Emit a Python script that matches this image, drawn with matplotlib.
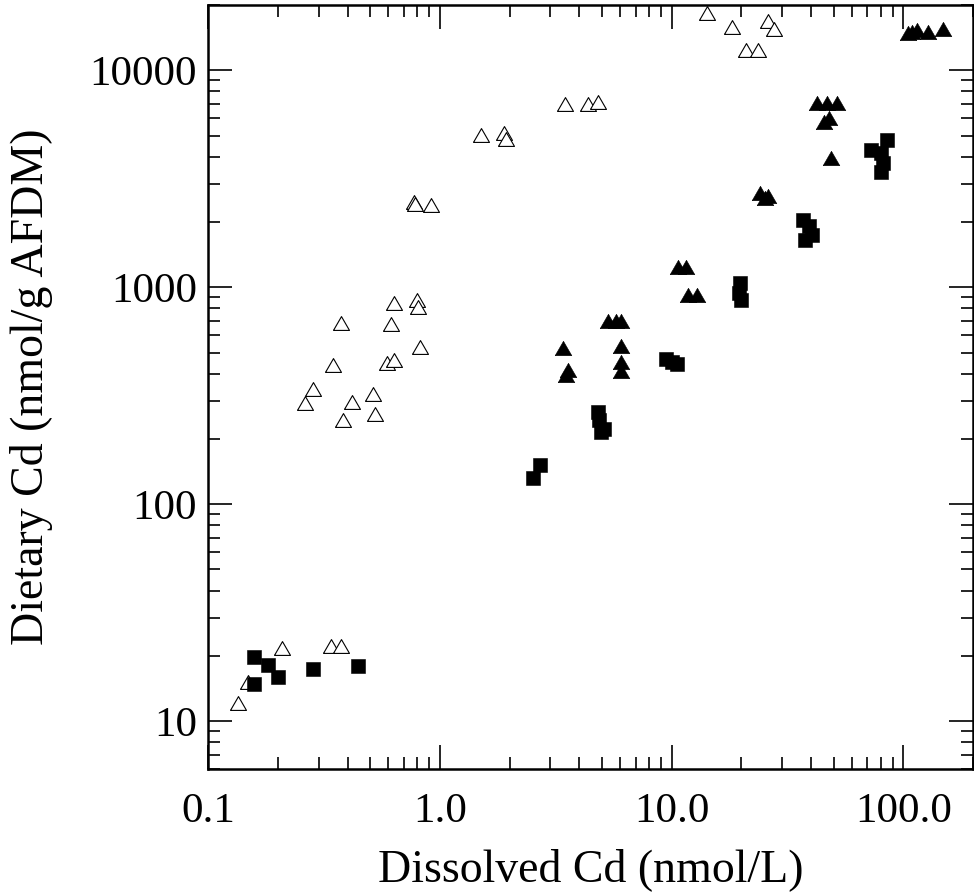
import numpy as np
import matplotlib
matplotlib.use("Agg")
import matplotlib.pyplot as plt
from matplotlib.ticker import FixedLocator, FixedFormatter, LogLocator, NullFormatter

plt.rcParams["font.family"] = ["Liberation Serif", "DejaVu Serif"]

# ── open triangles ───────────────────────────────────────────────────────────
open_tri_x = [0.134, 0.148, 0.208, 0.340, 0.373,
              0.262, 0.284, 0.381, 0.419, 0.516, 0.523, 0.347, 0.591, 0.633,
              0.3755, 0.617, 0.818, 0.633, 0.800, 0.806,
              0.773, 0.780, 0.917,
              1.51, 1.89, 1.94,
              3.46, 4.36, 4.80,
              14.2, 18.3, 26.2, 27.6, 21.0, 23.5]
open_tri_y = [12.1, 15.1, 21.7, 22.1, 22.1,
              292, 339, 245, 297, 322, 261, 438, 447, 462,
              683, 677, 532, 844, 875, 809,
              2460, 2420, 2390,
              5035, 5140, 4820,
              7000, 7000, 7140,
              18370, 15830, 16870, 15500, 12400, 12460]

# ── filled triangles ─────────────────────────────────────────────────────────
fill_tri_x = [3.39, 3.58, 3.50,
              5.31, 5.75, 6.07, 6.05, 6.05, 6.05,
              10.7, 11.6, 11.8, 12.9,
              24.1, 25.4, 26.2,
              42.3, 46.7, 51.6, 45.4, 48.0, 48.6,
              105, 109, 115, 128, 149]
fill_tri_y = [522, 416, 394,
              702, 702, 702, 538, 454, 409,
              1244, 1244, 920, 920,
              2710, 2580, 2620,
              7050, 7050, 7050, 5800, 6010, 3930,
              14850, 15000, 15300, 15000, 15500]

# ── filled squares ───────────────────────────────────────────────────────────
square_x = [0.158, 0.182, 0.158, 0.200, 0.284, 0.443,
            2.72, 2.53,
            4.80, 4.85, 5.10, 4.95,
            9.42, 10.0, 10.6,
            19.8, 19.5, 20.0,
            37.1, 39.3, 40.5, 37.6,
            84.7, 72.6, 80.5, 82.0, 80.5]
square_y = [19.7, 18.2, 14.9, 15.9, 17.4, 17.9,
            152, 132,
            266, 245, 222, 215,
            467, 453, 444,
            1042, 940, 875,
            2042, 1915, 1742, 1652,
            4770, 4290, 4140, 3730, 3410]

x_ticks = [0.1, 1.0, 10.0, 100.0]
x_tick_labels = ["0.1", "1.0", "10.0", "100.0"]
y_ticks = [10, 100, 1000, 10000]
y_tick_labels = ["10", "100", "1000", "10000"]

# equilateral triangle, centred on its bounding box
tri = [(-1, -0.866), (1, -0.866), (0, 0.866), (-1, -0.866)]

fig = plt.figure(figsize=(9.74, 8.92), dpi=100)
ax = fig.add_axes([0.2136, 0.1376, 0.7854, 0.8568])

ax.plot(open_tri_x, open_tri_y, ls="none", marker=tri, ms=11.5,
        mfc="white", mec="black", mew=0.8, zorder=3)
ax.plot(fill_tri_x, fill_tri_y, ls="none", marker=tri, ms=12,
        mfc="black", mec="black", mew=0.4, zorder=3)
ax.plot(square_x, square_y, ls="none", marker="s", ms=10.5,
        mfc="black", mec="black", mew=0.4, zorder=3)

ax.set_xscale("log")
ax.set_yscale("log")
ax.set_xlim(0.1, 200)
ax.set_ylim(6, 20000)

ax.xaxis.set_major_locator(FixedLocator(x_ticks))
ax.xaxis.set_major_formatter(FixedFormatter(x_tick_labels))
ax.yaxis.set_major_locator(FixedLocator(y_ticks))
ax.yaxis.set_major_formatter(FixedFormatter(y_tick_labels))
for axis in (ax.xaxis, ax.yaxis):
    axis.set_minor_locator(LogLocator(base=10, subs=np.arange(2, 10), numticks=20))
    axis.set_minor_formatter(NullFormatter())

ax.tick_params(which="both", direction="in", top=True, right=True,
               width=1.2, labelsize=31, color="black")
ax.tick_params(which="major", length=17)
ax.tick_params(which="minor", length=8.5)
ax.tick_params(axis="x", which="major", pad=17)
ax.tick_params(axis="y", which="major", pad=8)

for sp in ax.spines.values():
    sp.set_linewidth(1.8)

ax.set_xlabel("Dissolved Cd (nmol/L)", fontsize=33, labelpad=12)
ax.set_ylabel("Dietary Cd (nmol/g AFDM)", fontsize=33, labelpad=26)

fig.savefig("out.png", dpi=100, facecolor="white")
